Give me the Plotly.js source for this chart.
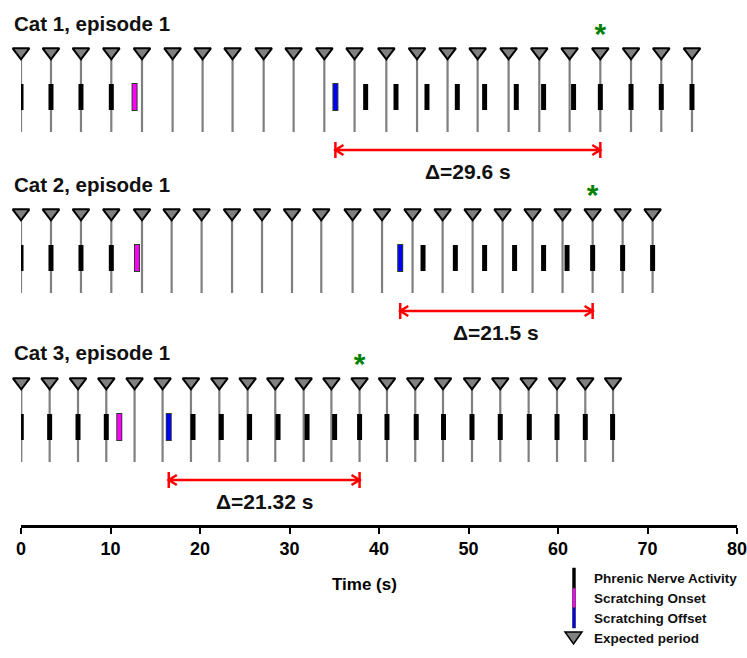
<!DOCTYPE html>
<html><head><meta charset="utf-8">
<script src="https://cdn.plot.ly/plotly-3.0.1.min.js"></script>
<style>body{margin:0;background:#fff}#chart{width:747px;height:658px}</style>
</head><body><div id="chart"></div>
<script>
// ---- data (seconds) ----
const catNames = ['Cat 1, episode 1', 'Cat 2, episode 1', 'Cat 3, episode 1'];
const expected1 = [0, 3.35, 6.7, 10.09, 13.52, 16.94, 20.29, 23.64, 27.11, 30.46, 33.89, 37.27, 40.82, 44.25, 47.66, 51.02, 54.48, 57.91, 61.3, 64.73, 68.16, 71.54, 74.97];
const expected2 = [0, 3.35, 6.7, 10.09, 13.52, 16.83, 20.18, 23.58, 26.93, 30.28, 33.55, 37.05, 40.34, 43.75, 47.11, 50.46, 53.81, 57.16, 60.51, 63.87, 67.22, 70.57];
const expected3 = [0.03, 3.2, 6.37, 9.53, 12.69, 15.82, 18.99, 22.16, 25.32, 28.41, 31.58, 34.68, 37.83, 40.89, 44.05, 47.15, 50.39, 53.55, 56.72, 59.89, 63.05, 66.15];
const phrenic1 = [0, 3.35, 6.7, 10.09, 38.51, 41.9, 45.36, 48.75, 51.8, 55.34, 58.39, 61.74, 64.73, 68.16, 71.54, 74.97];
const phrenic2 = [0, 3.35, 6.7, 10.09, 44.92, 48.53, 51.8, 55.15, 58.39, 61.01, 63.87, 67.22, 70.57];
const phrenic3 = [0.03, 3.2, 6.37, 9.53, 19.22, 22.38, 25.54, 28.72, 31.96, 35.04, 37.83, 40.89, 44.16, 47.21, 50.39, 53.55, 56.79, 59.89, 63.05, 66.1];
const onsetTimes = [12.69, 12.96, 10.98];
const offsetTimes = [35.13, 42.37, 16.51];
const starTimes = [64.73, 63.87, 37.83];
const deltaLabels = ['Δ=29.6 s', 'Δ=21.5 s', 'Δ=21.32 s'];
const xTickVals = [0, 10, 20, 30, 40, 50, 60, 70, 80];
const xTitle = 'Time (s)';
const legendLabels = ['Phrenic Nerve Activity', 'Scratching Onset', 'Scratching Offset', 'Expected period'];

// ---- layout constants (pixel-like y units, reversed axis) ----
const expectedRows = [expected1, expected2, expected3];
const phrenicRows = [phrenic1, phrenic2, phrenic3];
const triY = [52, 213, 382];
const LINE_END = 80, BAR_TOP = 32, BAR_BOT = 58, STAR_DY = -16, ARROW_DY = 98, LABEL_DY = 119, TITLE_DY = -29;
const FONT = 'Arial, "Liberation Sans", sans-serif';
const W = 747, H = 658, ML = 21, MR = 10, MT = 0, MB = 133;
const plotW = W - ML - MR, plotH = H - MT - MB;
const px2x = px => (px - ML) / plotW;
const py2y = py => (plotH + MT - py) / plotH;

function segs(xs, y0, y1) {
  const X = [], Y = [];
  xs.forEach(t => { X.push(t, t, null); Y.push(y0, y1, null); });
  return {X, Y};
}

const traces = [];
const annotations = [];
for (let r = 0; r < 3; r++) {
  const ty = triY[r];
  const exp = expectedRows[r];
  const g = segs(exp, ty, ty + LINE_END);
  traces.push({x: g.X, y: g.Y, mode: 'lines', line: {color: '#7f7f7f', width: 2.2}, hoverinfo: 'skip'});
  const b = segs(phrenicRows[r], ty + BAR_TOP, ty + BAR_BOT);
  traces.push({x: b.X, y: b.Y, mode: 'lines', line: {color: '#000', width: 5}, hoverinfo: 'skip'});
  [[onsetTimes[r], '#ff00ff'], [offsetTimes[r], '#0000ff']].forEach(([t, c]) => {
    traces.push({x: [t, t], y: [ty + BAR_TOP - 1, ty + BAR_BOT + 1], mode: 'lines', line: {color: '#2b3a2b', width: 6}, hoverinfo: 'skip'});
    traces.push({x: [t, t], y: [ty + BAR_TOP, ty + BAR_BOT], mode: 'lines', line: {color: c, width: 4}, hoverinfo: 'skip'});
  });
  traces.push({x: exp, y: exp.map(() => ty), mode: 'markers',
    marker: {symbol: 'triangle-down', size: 14.5, color: '#808080', line: {color: '#000', width: 2}}, hoverinfo: 'skip'});
  traces.push({x: [starTimes[r]], y: [ty + STAR_DY], mode: 'text', text: ['*'], textposition: 'middle center',
    textfont: {family: FONT, size: 30, color: '#008000', weight: 'bold'}, hoverinfo: 'skip'});
  const s0 = offsetTimes[r], s1 = starTimes[r], ay = ty + ARROW_DY, d = 0.9;
  traces.push({
    x: [s0, s1, null, s0, s0, null, s1, s1, null, s0 + d, s0, s0 + d, null, s1 - d, s1, s1 - d],
    y: [ay, ay, null, ay - 8, ay + 8, null, ay - 8, ay + 8, null, ay - 5, ay, ay + 5, null, ay - 5, ay, ay + 5],
    mode: 'lines', line: {color: '#ff0000', width: 2.5}, hoverinfo: 'skip'});
  annotations.push({x: (s0 + s1) / 2, y: ty + LABEL_DY, xref: 'x', yref: 'y', text: deltaLabels[r], showarrow: false,
    font: {family: FONT, size: 21, color: '#111', weight: 'bold'}, xanchor: 'center', yanchor: 'middle'});
  annotations.push({x: px2x(12), y: py2y(ty + TITLE_DY), xref: 'paper', yref: 'paper', text: catNames[r], showarrow: false,
    font: {family: FONT, size: 20.5, color: '#111', weight: 'bold'}, xanchor: 'left', yanchor: 'middle'});
}

annotations.push({x: px2x(364), y: py2y(584), xref: 'paper', yref: 'paper', text: xTitle, showarrow: false,
  font: {family: FONT, size: 17, color: '#000', weight: 'bold'}, xanchor: 'center', yanchor: 'middle'});

// ---- legend (drawn) ----
const shapes = [];
const legRowY = [578, 598, 618, 638];
const legColors = ['#000', '#ff00ff', '#0000ff'];
for (let i = 0; i < 3; i++) {
  shapes.push({type: 'rect', xref: 'paper', yref: 'paper', x0: px2x(572.5), x1: px2x(575.5),
    y0: py2y(legRowY[i] - 10), y1: py2y(legRowY[i] + 10), fillcolor: legColors[i], line: {width: 0.6, color: '#222'}});
}
{
  const cy = legRowY[3], cx = 573.5;
  const p = (x, y) => px2x(x) + ',' + py2y(y);
  shapes.push({type: 'path', xref: 'paper', yref: 'paper',
    path: 'M' + p(cx - 8.5, cy - 6) + ' L' + p(cx + 8.5, cy - 6) + ' L' + p(cx, cy + 6) + ' Z',
    fillcolor: '#808080', line: {color: '#000', width: 1.5}});
}
legendLabels.forEach((t, i) => {
  annotations.push({x: px2x(592), y: py2y(legRowY[i]), xref: 'paper', yref: 'paper', text: t, showarrow: false,
    font: {family: FONT, size: 13.5, color: '#111', weight: 'bold'}, xanchor: 'left', yanchor: 'middle'});
});

const layout = {
  width: W, height: H,
  margin: {l: ML, r: MR, t: MT, b: MB},
  paper_bgcolor: '#fff', plot_bgcolor: '#fff',
  showlegend: false,
  xaxis: {range: [0, 80], tickvals: xTickVals, ticks: 'outside', ticklen: 6, tickwidth: 2, tickcolor: '#000',
    showline: true, linecolor: '#000', linewidth: 2.5, showgrid: false, zeroline: false,
    ticklabeloverflow: 'allow', automargin: false,
    tickfont: {family: FONT, size: 18, color: '#000', weight: 'bold'}},
  yaxis: {range: [plotH + MT, MT], visible: false, fixedrange: true},
  annotations, shapes
};
traces.forEach(t => { t.cliponaxis = false; t.showlegend = false; });
Plotly.newPlot('chart', traces, layout, {displayModeBar: false, staticPlot: true});
</script>
</body></html>
